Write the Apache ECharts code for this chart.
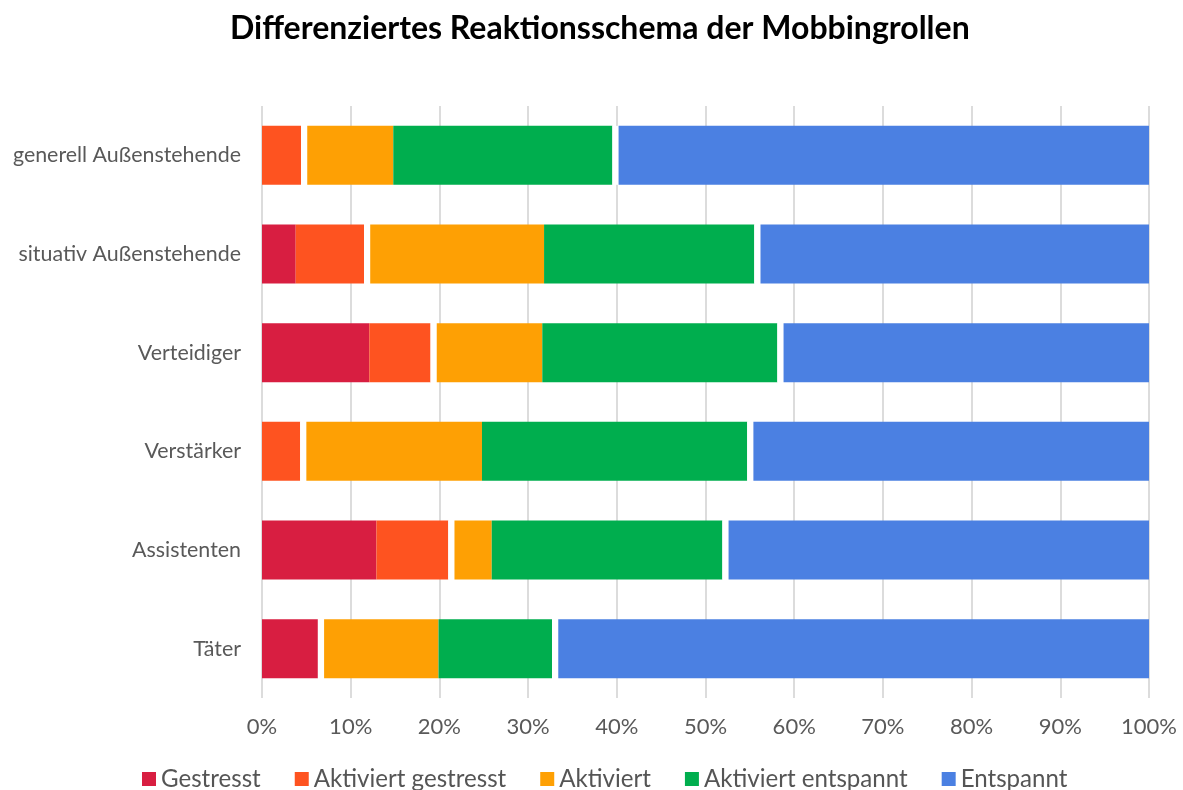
<!DOCTYPE html>
<html>
<head>
<meta charset="utf-8">
<script src="https://cdn.jsdelivr.net/npm/echarts@6/dist/echarts.min.js"></script>
<style>
html,body{margin:0;padding:0;background:#fff;}
#chart{width:1183px;height:790px;}
</style>
</head>
<body>
<div id="chart"></div>
<script>
// Categories bottom-to-top (ECharts category axis on y draws first item at the bottom)
const categories = ['Täter', 'Assistenten', 'Verstärker', 'Verteidiger', 'situativ Außenstehende', 'generell Außenstehende'];
const gestresst          = [6.3, 12.9, 0, 12.1, 3.8, 0];
const aktiviertGestresst = [0, 8.1, 4.3, 6.9, 7.7, 4.4];
const spacerA            = [0.7, 0.7, 0.7, 0.7, 0.7, 0.7];
const aktiviert          = [12.9, 4.2, 19.8, 11.9, 19.6, 9.7];
const aktiviertEntspannt = [12.8, 26.0, 29.9, 26.5, 23.7, 24.7];
const spacerB            = [0.7, 0.7, 0.7, 0.7, 0.7, 0.7];
const entspannt          = [66.6, 47.4, 44.6, 41.2, 43.8, 59.8];
const xTicks = [0, 10, 20, 30, 40, 50, 60, 70, 80, 90, 100];

const FONT = 'Lato';
const colors = {
  'Gestresst': '#d81e41',
  'Aktiviert gestresst': '#fe5320',
  'Aktiviert': '#fea004',
  'Aktiviert entspannt': '#00ae4e',
  'Entspannt': '#4b80e2'
};
function bar(name, data, color, silent) {
  return {
    name: name, type: 'bar', stack: 'total', data: data,
    barWidth: 59, silent: !!silent,
    itemStyle: { color: color },
    emphasis: { disabled: true }
  };
}
const chart = echarts.init(document.getElementById('chart'), null, { renderer: 'canvas' });
chart.setOption({
  animation: false,
  textStyle: { fontFamily: FONT },
  title: {
    text: 'Differenziertes Reaktionsschema der Mobbingrollen',
    left: 225, top: 8,
    textStyle: { fontFamily: FONT, fontSize: 32, fontWeight: 'bold', color: '#000' }
  },
  legend: {
    data: ['Gestresst', 'Aktiviert gestresst', 'Aktiviert', 'Aktiviert entspannt', 'Entspannt'],
    top: 762, left: 137,
    icon: 'rect', itemWidth: 14, itemHeight: 14, itemGap: 34,
    textStyle: { fontFamily: FONT, fontSize: 24.1, color: '#555' }
  },
  grid: { left: 262, right: 34, top: 106, bottom: 92, containLabel: false },
  xAxis: {
    type: 'value', min: 0, max: 100, interval: 10,
    axisLine: { show: false },
    axisTick: { show: false },
    splitLine: { show: true, lineStyle: { color: '#dcdcdc', width: 2 } },
    axisLabel: { formatter: v => xTicks.includes(v) ? v + '%' : '', fontFamily: FONT, fontSize: 22, color: '#595959', margin: 18 }
  },
  yAxis: {
    type: 'category', data: categories,
    axisLine: { show: false },
    axisTick: { show: false },
    axisLabel: { fontFamily: FONT, fontSize: 21.4, color: '#595959', margin: 21 }
  },
  series: [
    bar('Gestresst', gestresst, colors['Gestresst']),
    bar('Aktiviert gestresst', aktiviertGestresst, colors['Aktiviert gestresst']),
    bar('spacerA', spacerA, '#ffffff', true),
    bar('Aktiviert', aktiviert, colors['Aktiviert']),
    bar('Aktiviert entspannt', aktiviertEntspannt, colors['Aktiviert entspannt']),
    bar('spacerB', spacerB, '#ffffff', true),
    bar('Entspannt', entspannt, colors['Entspannt'])
  ]
});
</script>
</body>
</html>
